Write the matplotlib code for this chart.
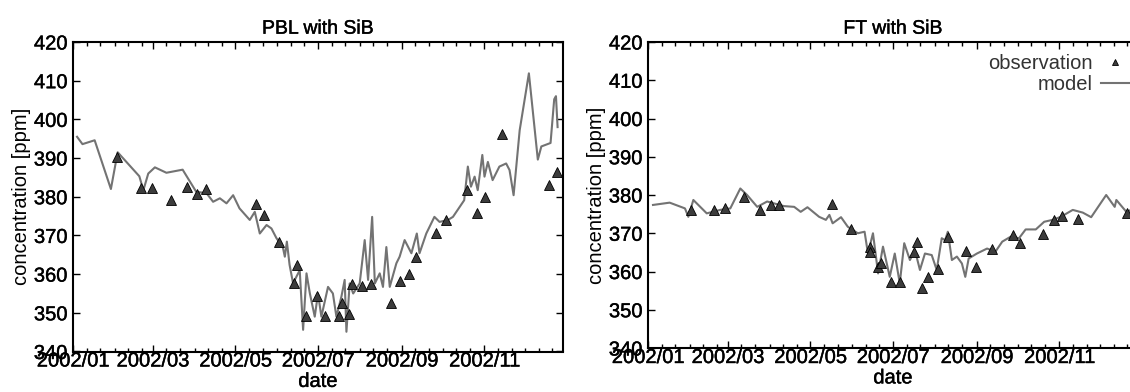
import numpy as np
import matplotlib
matplotlib.use("Agg")
import matplotlib.pyplot as plt
import matplotlib.dates as mdates
import matplotlib.patheffects as pe

plt.rcParams["font.family"] = ["Liberation Sans", "DejaVu Sans"]

# day offsets from 2002/01/01 and CO2 concentration [ppm]
pblModelDay = [3, 7, 16, 28, 33, 49, 52, 55.6, 60.5, 69, 81, 91, 98.7, 103.5, 108.5, 113.4,
               118.3, 123, 130.6, 134.3, 138, 143, 146.6, 150.3, 155, 156.5, 158, 160, 162.6,
               165, 167.5, 170, 172.5, 175, 178.6, 181, 183.5, 188.4, 192, 194.6, 198.3, 200.7,
               202, 204.4, 207, 211.8, 215.5, 218, 221, 223, 226.6, 229, 231.5, 234, 238.9,
               241.3, 245, 250, 254, 256, 261, 267, 270.8, 277, 280.7, 289, 291.7, 294, 296.7,
               299, 302.4, 304, 306.5, 310, 315, 320, 322.5, 325.5, 330, 336.8, 343.4, 346,
               352.8, 355.5, 356.8, 358]
pblModel = [395.5, 393.6, 394.6, 382.0, 391.5, 385.3, 381.7, 386.0, 387.6, 386.2, 387.0, 381.3,
            380.9, 378.7, 379.6, 378.3, 380.4, 377.0, 374.0, 376.1, 370.5, 372.7, 371.8, 369.3,
            367.0, 364.5, 368.4, 362.4, 357.6, 359.3, 361.0, 345.6, 360.2, 355.0, 349.0, 355.0,
            349.0, 356.7, 355.0, 349.0, 354.2, 358.5, 345.1, 357.6, 355.0, 357.6, 368.8, 358.5,
            374.8, 357.6, 360.2, 356.7, 367.0, 356.7, 362.8, 364.5, 368.8, 365.4, 370.5, 365.4,
            370.5, 374.8, 373.5, 374.0, 374.8, 379.1, 387.8, 382.6, 385.2, 381.7, 390.8, 385.2,
            389.0, 384.3, 387.8, 388.6, 386.9, 380.4, 397.2, 411.9, 389.6, 393.0, 393.9, 405.2,
            406.0, 398.0]

pblObsDay = [32.4, 50.3, 58.4, 72.5, 84.3, 91.8, 98.5, 135.4, 141.3, 152, 165.4, 163.5, 172,
             180, 186.3, 196.2, 198.9, 203.7, 206.4, 213.6, 220.3, 235, 241.7, 248.4, 253.7,
             268.5, 275.2, 291.2, 298.4, 304.6, 316.6, 351.4, 357.3]
pblObs = [390.4, 382.2, 382.2, 379.1, 382.4, 380.6, 381.9, 378.1, 375.2, 368.3, 362.4, 357.8,
          349.3, 354.3, 349.1, 349.1, 352.6, 349.6, 357.4, 357.0, 357.4, 352.6, 358.3, 360.0,
          364.3, 370.6, 373.9, 381.7, 375.7, 380.0, 396.1, 383.0, 386.5]

ftModelDay = [3.7, 16, 27.3, 29.8, 33.5, 43.4, 53.3, 60.8, 68.2, 73.2, 80.7, 88, 100.4, 108,
              112.8, 117.8, 126.4, 131.4, 134, 136.4, 142.6, 147.6, 155, 160, 162.5, 166.2, 170,
              173.6, 178.6, 182.3, 186, 189.3, 193.5, 197.2, 200.9, 204.6, 209.6, 213.3, 217,
              219.5, 221.5, 224.5, 228.2, 231.9, 234.4, 236.9, 243, 250.5, 256.7, 261.7, 267.9,
              274.1, 279, 286.5, 292.7, 298.9, 305, 313.8, 321.2, 327.4, 338.5, 344.8, 346,
              353.4, 358.4]
ftModel = [377.4, 378.0, 376.5, 374.3, 378.7, 375.2, 376.1, 376.5, 381.7, 380.0, 376.9, 378.3,
           377.1, 376.9, 375.6, 376.8, 374.3, 373.5, 374.8, 372.6, 374.2, 371.7, 370.0, 370.4,
           364.7, 370.0, 359.5, 366.5, 358.6, 364.7, 356.9, 367.4, 363.0, 365.6, 360.4, 364.7,
           364.3, 360.4, 368.7, 368.2, 370.4, 363.0, 363.9, 362.1, 358.6, 363.4, 364.7, 366.0,
           365.2, 367.8, 369.1, 368.7, 371.0, 371.0, 373.0, 373.5, 374.3, 376.1, 375.4, 374.2,
           380.0, 376.9, 378.7, 375.6, 376.3]

ftObsDay = [31.5, 48.9, 57, 70.7, 83.1, 91, 96.8, 135.7, 150, 163.7, 164.3, 170, 172.3, 179.8,
            186, 196.7, 198.4, 202.6, 206.5, 214, 221.5, 234.7, 242.2, 254.1, 269.5, 274.5,
            291.9, 300.1, 305.8, 318, 354]
ftObs = [376.2, 376.2, 376.5, 379.6, 376.1, 377.4, 377.4, 377.6, 371.0, 366.3, 365.2, 361.2,
         362.3, 357.3, 357.3, 365.2, 367.8, 355.6, 358.5, 360.6, 369.1, 365.4, 361.1, 366.0,
         369.5, 367.4, 369.8, 373.5, 374.5, 373.6, 375.4]

titles = ["PBL with SiB", "FT with SiB"]

start = np.datetime64("2002-01-01T00:00")


def toDates(days):
    minutes = np.round(np.asarray(days) * 1440).astype("timedelta64[m]")
    return start + minutes


fig = plt.figure(figsize=(11.3, 3.92), dpi=100)
W, H = 1130.0, 392.0

axPbl = fig.add_axes([73 / W, (H - 351.5) / H, 490 / W, 309.5 / H])
axFt = fig.add_axes([648 / W, (H - 348) / H, 490 / W, 306 / H])

sizeTicks = 14.5
sizeAxis = 14.5
sizeTitle = 14
lineColor = "0.45"
markColor = "#3c3c3c"
heavy = [pe.withStroke(linewidth=0.3, foreground="black")]

for axes, mDay, mVal, oDay, oVal, title in [
    (axPbl, pblModelDay, pblModel, pblObsDay, pblObs, titles[0]),
    (axFt, ftModelDay, ftModel, ftObsDay, ftObs, titles[1]),
]:
    axes.plot(toDates(mDay), mVal, "-", color=lineColor, lw=1.5, label="model", zorder=2)
    axes.plot(toDates(oDay), oVal, "^", color=markColor, mec="black", mew=0.6, ms=7,
              linestyle="none", label="observation", zorder=3)

    axes.set_xlim(start, start + np.timedelta64(362, "D"))
    axes.set_ylim(340, 420)
    axes.set_yticks(np.arange(340, 421, 10))

    axes.xaxis.set_major_locator(mdates.MonthLocator(bymonth=[1, 3, 5, 7, 9, 11]))
    axes.xaxis.set_major_formatter(mdates.DateFormatter("%Y/%m"))
    axes.xaxis.set_minor_locator(mdates.DayLocator(bymonthday=[1, 11, 21]))

    axes.tick_params(which="both", direction="in", top=True, right=True, width=1)
    axes.tick_params(which="major", length=5, labelsize=sizeTicks)
    axes.tick_params(axis="x", which="major", pad=0)
    axes.tick_params(axis="y", which="major", pad=4)
    axes.tick_params(which="minor", length=3)
    for spine in axes.spines.values():
        spine.set_linewidth(1.5)

    axes.set_title(title, fontsize=sizeTitle, pad=6, path_effects=heavy)
    axes.set_xlabel("date", fontsize=sizeAxis, labelpad=1, path_effects=heavy)
    axes.set_ylabel("concentration [ppm]", fontsize=sizeAxis, labelpad=2)
    for lab in axes.get_xticklabels() + axes.get_yticklabels():
        lab.set_path_effects(heavy)

handles, labels = axFt.get_legend_handles_labels()
leg = axFt.legend(handles[::-1], labels[::-1], loc="upper right", frameon=False,
                  bbox_to_anchor=(1.0 + 3 / 490, 1.0),
                  markerfirst=False, fontsize=sizeAxis, handlelength=1.4, handletextpad=0.4,
                  borderaxespad=0.2, labelspacing=0.1, markerscale=0.65)
for text in leg.get_texts():
    text.set_color("#333333")

fig.savefig("out.png", dpi=100)
